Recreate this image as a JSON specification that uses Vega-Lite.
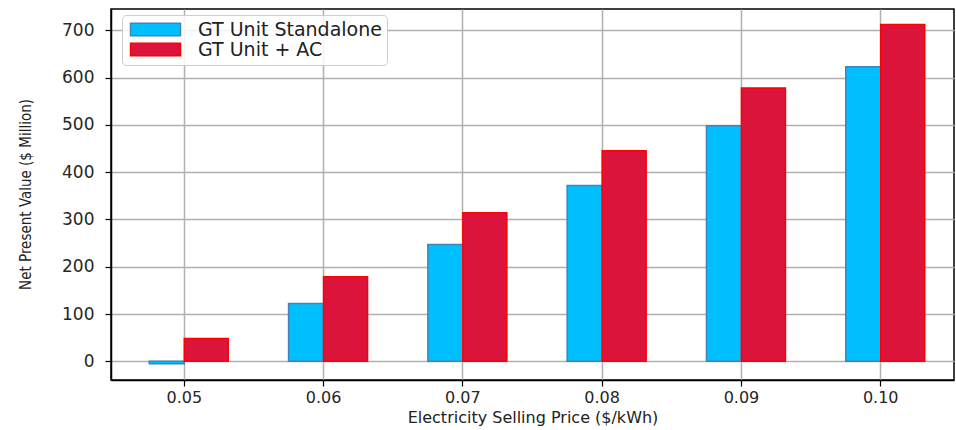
{
  "$schema": "https://vega.github.io/schema/vega-lite/v6.json",
  "width": 843,
  "height": 371,
  "autosize": {"type": "none"},
  "padding": {"left": 111, "top": 9, "right": 2, "bottom": 50},
  "background": "white",
  "config": {
    "view": {"stroke": "#000000", "strokeWidth": 1.5},
    "font": "DejaVu Sans",
    "axis": {
      "domainColor": "#000000",
      "domainWidth": 1.5,
      "tickColor": "#000000",
      "tickSize": 6,
      "tickWidth": 1.2,
      "labelFont": "DejaVu Sans",
      "labelFontSize": 17,
      "labelColor": "#262626",
      "grid": true,
      "gridColor": "#b0b0b0",
      "gridWidth": 1.5,
      "gridOpacity": 1,
      "titleFontWeight": "normal",
      "titleColor": "#222222",
      "zindex": 1
    },
    "legend": {
      "title": null,
      "orient": "none",
      "legendX": 11,
      "legendY": 6,
      "direction": "vertical",
      "fillColor": "rgba(255,255,255,0.85)",
      "strokeColor": "#cccccc",
      "cornerRadius": 4,
      "padding": 5,
      "symbolType": "M-4,-1H4V1H-4Z",
      "symbolSize": 156,
      "symbolOffset": 19,
      "symbolStrokeWidth": 1.5,
      "labelFont": "DejaVu Sans",
      "labelFontSize": 19,
      "labelColor": "#222222",
      "labelOffset": 33,
      "labelLimit": 400,
      "rowPadding": 0,
      "zindex": 2
    }
  },
  "data": {
    "values": [
      {"price": "0.05", "series": "GT Unit Standalone", "npv": -5},
      {"price": "0.06", "series": "GT Unit Standalone", "npv": 122},
      {"price": "0.07", "series": "GT Unit Standalone", "npv": 247},
      {"price": "0.08", "series": "GT Unit Standalone", "npv": 372},
      {"price": "0.09", "series": "GT Unit Standalone", "npv": 498},
      {"price": "0.10", "series": "GT Unit Standalone", "npv": 623},
      {"price": "0.05", "series": "GT Unit + AC", "npv": 48},
      {"price": "0.06", "series": "GT Unit + AC", "npv": 179},
      {"price": "0.07", "series": "GT Unit + AC", "npv": 314},
      {"price": "0.08", "series": "GT Unit + AC", "npv": 445},
      {"price": "0.09", "series": "GT Unit + AC", "npv": 578},
      {"price": "0.10", "series": "GT Unit + AC", "npv": 712}
    ]
  },
  "encoding": {
    "x": {
      "field": "price",
      "type": "ordinal",
      "scale": {"paddingInner": 0, "paddingOuter": 0.026},
      "axis": {
        "labelAngle": 0,
        "bandPosition": 0.5,
        "labelFontSize": 16,
        "labelPadding": 3,
        "title": "Electricity Selling Price ($/kWh)",
        "titleFont": "DejaVu Sans",
        "titleFontSize": 16,
        "titleY": 37,
        "titleBaseline": "middle"
      }
    },
    "y": {
      "field": "npv",
      "type": "quantitative",
      "scale": {"domain": [-39.5, 745], "nice": false},
      "axis": {
        "values": [0, 100, 200, 300, 400, 500, 600, 700],
        "labelPadding": 11,
        "title": "Net Present Value ($ Million)",
        "titleFont": "DejaVu Sans Condensed, Liberation Sans, sans-serif",
        "titleFontSize": 15,
        "titleAngle": 270,
        "titleX": -86,
        "titleY": 185,
        "titleAlign": "center",
        "titleBaseline": "middle"
      }
    },
    "color": {
      "field": "series",
      "type": "nominal",
      "scale": {"domain": ["GT Unit Standalone", "GT Unit + AC"], "range": ["#00bfff", "#dc143c"]}
    },
    "stroke": {
      "field": "series",
      "type": "nominal",
      "scale": {"domain": ["GT Unit Standalone", "GT Unit + AC"], "range": ["#4682b4", "#ff0000"]}
    }
  },
  "layer": [
    {
      "transform": [{"filter": "datum.series === 'GT Unit Standalone'"}],
      "mark": {"type": "bar", "width": 35, "xOffset": -17.5, "strokeWidth": 1.5, "fillOpacity": 1}
    },
    {
      "transform": [{"filter": "datum.series === 'GT Unit + AC'"}],
      "mark": {"type": "bar", "width": 44, "xOffset": 22, "strokeWidth": 1.5, "fillOpacity": 1}
    }
  ]
}
